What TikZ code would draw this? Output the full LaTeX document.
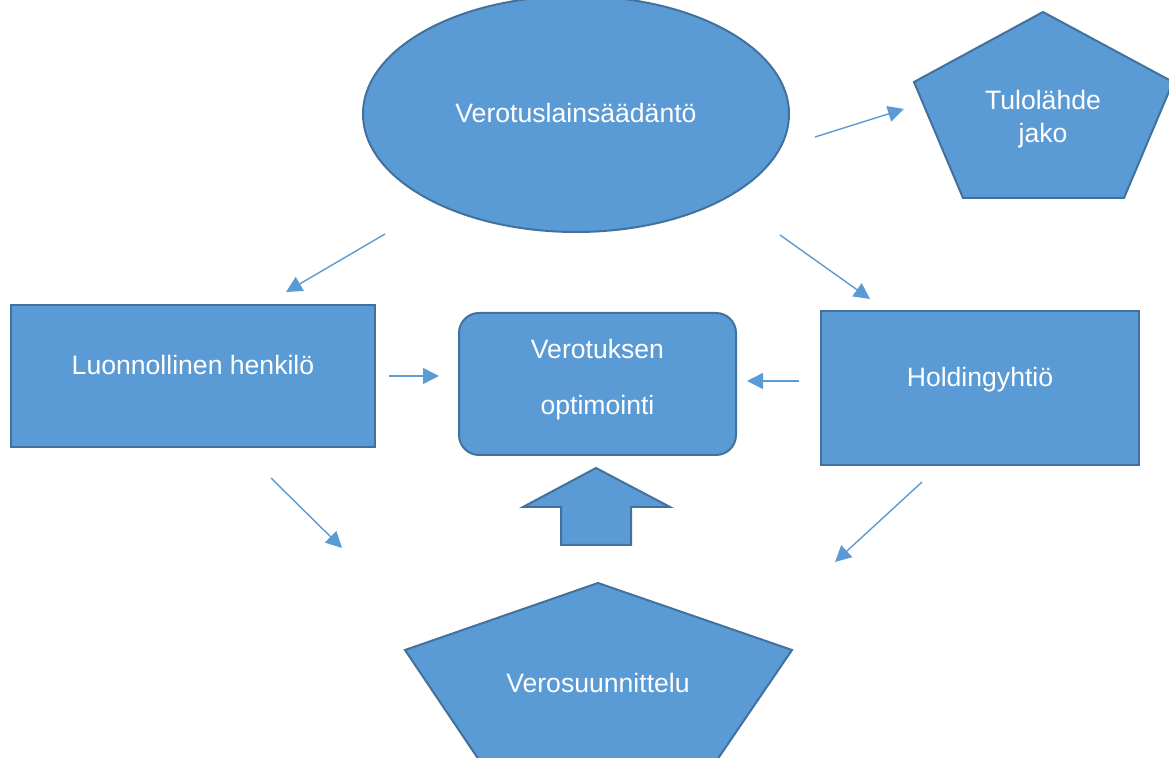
\documentclass[tikz,border=0pt]{standalone}
\usepackage{fontspec}
\setmainfont{Liberation Sans}
\usetikzlibrary{shapes.geometric,arrows.meta}
\definecolor{boxfill}{HTML}{5B9BD5}
\definecolor{boxline}{HTML}{41719C}
\definecolor{arrowcol}{HTML}{5B9BD5}
\tikzset{
  shapebox/.style={draw=boxline,fill=boxfill,line width=1pt,inner sep=0pt,outer sep=0pt},
  lbl/.style={text=white,font=\fontsize{13.3}{16.5}\selectfont,align=center,inner sep=0pt},
  conn/.style={draw=arrowcol,line width=0.7pt,-{Triangle[length=8pt,width=8pt]}}
}
\begin{document}
\begin{tikzpicture}[x=0.5pt,y=-0.5pt]
\useasboundingbox (0,0) rectangle (1169,758);
% ellipse
\node[shapebox,ellipse,minimum width=213pt,minimum height=118pt] (ell) at (576,114) {};
\node[lbl] (ellt) at (576,113) {Verotuslainsäädäntö};
% Tulolahde pentagon
\draw[shapebox] (1043,12) -- (1173,82) -- (1124,198) -- (963,198) -- (914,82) -- cycle;
\node[lbl,font=\fontsize{13.3}{16.5}\selectfont] (tulo) at (1043,119) {Tulolähde\\jako};
% rectangles
\node[shapebox,rectangle,minimum width=182pt,minimum height=71pt] (luon) at (193,376) {};
\node[lbl] (luont) at (193,365) {Luonnollinen henkilö};
\node[shapebox,rectangle,rounded corners=10pt,minimum width=138.5pt,minimum height=71pt] (opt) at (597.5,384) {};
\node[lbl,font=\fontsize{13.3}{28}\selectfont] (optt) at (597.5,380) {Verotuksen\\optimointi};
\node[shapebox,rectangle,minimum width=159pt,minimum height=77pt] (hold) at (980,388) {};
\node[lbl] (holdt) at (980,380) {Holdingyhtiö};
% up arrow block
\draw[shapebox] (596,468) -- (670,507) -- (631,507) -- (631,545) -- (561,545) -- (561,507) -- (523,507) -- cycle;
% Verosuunnittelu pentagon
\draw[shapebox] (598,583) -- (792,650) -- (717,760) -- (479,760) -- (405,650) -- cycle;
\node[lbl] (veros) at (598,683) {Verosuunnittelu};
% connectors
\coordinate (a1s) at (815,137); \coordinate (a1e) at (904,109);
\coordinate (a2s) at (385,234); \coordinate (a2e) at (286,292);
\coordinate (a3s) at (780,235); \coordinate (a3e) at (870,299);
\coordinate (a4s) at (389,376); \coordinate (a4e) at (439,376);
\coordinate (a5s) at (799,381); \coordinate (a5e) at (747,381);
\coordinate (a6s) at (271,478); \coordinate (a6e) at (342,548);
\coordinate (a7s) at (922,482); \coordinate (a7e) at (835,562);
\draw[conn] (a1s) -- (a1e);
\draw[conn] (a2s) -- (a2e);
\draw[conn] (a3s) -- (a3e);
\draw[conn] (a4s) -- (a4e);
\draw[conn] (a5s) -- (a5e);
\draw[conn] (a6s) -- (a6e);
\draw[conn] (a7s) -- (a7e);
\end{tikzpicture}
\end{document}
